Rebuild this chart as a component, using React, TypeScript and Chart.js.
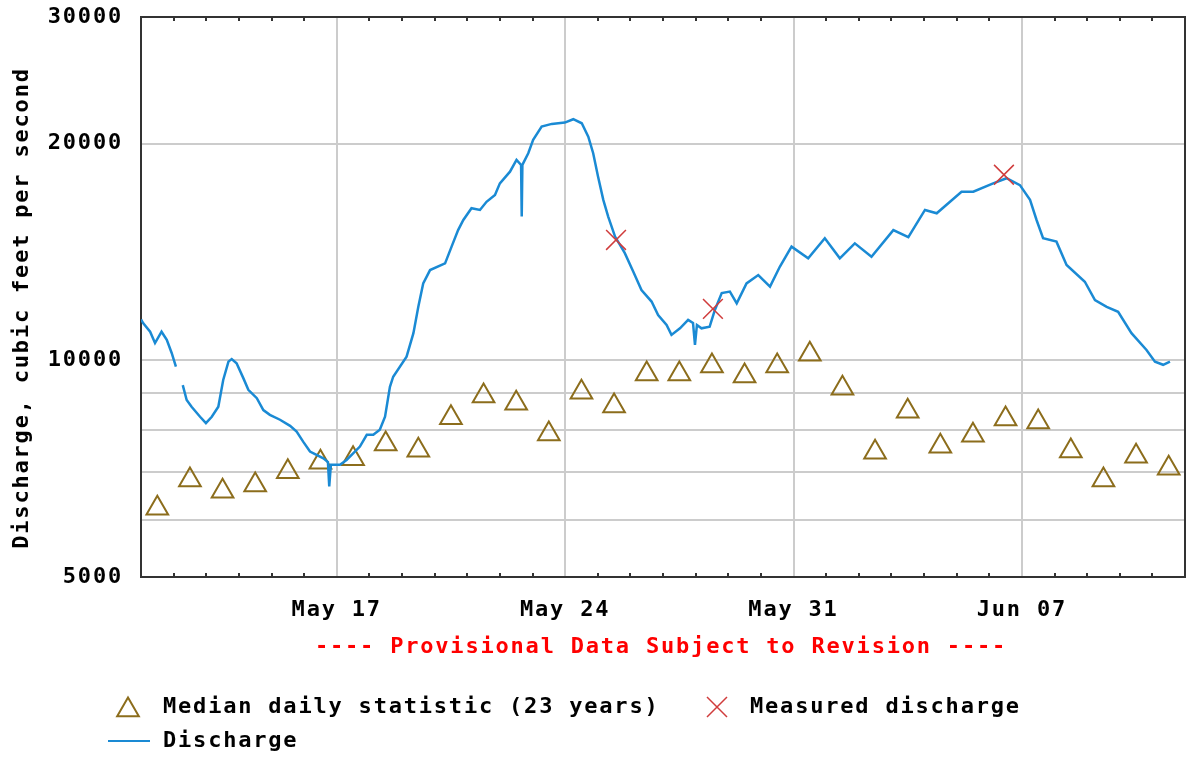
import React, { useEffect, useRef } from 'react';
import { Chart, registerables } from 'chart.js';

Chart.register(...registerables);

// x values are days since May 11 00:00
const X_TICK_DAYS = [6, 13, 20, 27];
const X_TICK_LABELS = ['May 17', 'May 24', 'May 31', 'Jun 07'];
const Y_GRID_VALUES = [5000, 6000, 7000, 8000, 9000, 10000, 20000, 30000];
const Y_LABELED_VALUES = [5000, 10000, 20000, 30000];

const MEDIAN_DAYS = [
  0.5, 1.5, 2.5, 3.5, 4.5, 5.5, 6.5, 7.5, 8.5, 9.5, 10.5, 11.5, 12.5, 13.5, 14.5, 15.5,
  16.5, 17.5, 18.5, 19.5, 20.5, 21.5, 22.5, 23.5, 24.5, 25.5, 26.5, 27.5, 28.5, 29.5, 30.5, 31.5,
];
const MEDIAN_CFS = [
  6230, 6820, 6580, 6710, 7000, 7220, 7300, 7650, 7500, 8320, 8920, 8720, 7900, 9030, 8640, 9570,
  9570, 9820, 9510, 9820, 10200, 9150, 7450, 8500, 7600, 7870, 8290, 8210, 7480, 6820, 7360, 7080,
];

const MEASURED_DAYS = [14.56, 17.53, 26.45];
const MEASURED_CFS = [14700, 11790, 18110];

const DISCHARGE_DAYS = [
  0.0, 0.07, 0.28, 0.43, 0.63, 0.79, 0.94, 1.07, 1.15, 1.28, 1.4, 1.55, 1.81, 1.99, 2.17, 2.37,
  2.52, 2.68, 2.78, 2.93, 3.14, 3.29, 3.55, 3.75, 3.95, 4.26, 4.57, 4.77, 4.97, 5.18, 5.38, 5.59,
  5.73, 5.77, 5.82, 5.95, 6.1, 6.3, 6.51, 6.71, 6.92, 7.12, 7.32, 7.48, 7.63, 7.73, 8.14, 8.35,
  8.5, 8.65, 8.86, 9.32, 9.52, 9.72, 9.88, 10.13, 10.39, 10.59, 10.85, 11.0, 11.31, 11.51, 11.65, 11.67,
  11.69, 11.87, 12.02, 12.28, 12.59, 12.99, 13.25, 13.51, 13.71, 13.86, 14.01, 14.17, 14.32, 14.53, 14.83, 15.09,
  15.34, 15.65, 15.85, 16.11, 16.26, 16.52, 16.77, 16.92, 16.98, 17.04, 17.18, 17.43, 17.59, 17.8, 18.05, 18.26,
  18.56, 18.92, 19.28, 19.58, 19.94, 20.45, 20.96, 21.42, 21.88, 22.39, 23.06, 23.52, 24.03, 24.39, 25.15, 25.51,
  26.12, 26.53, 26.94, 27.25, 27.45, 27.65, 28.06, 28.37, 28.93, 29.24, 29.6, 29.95, 30.36, 30.82, 31.08, 31.33,
  31.54,
];
const DISCHARGE_CFS = [
  11400, 11260, 10960, 10570, 10960, 10680, 10240, 9800, null, 9240, 8810, 8620, 8350, 8180, 8350, 8620,
  9390, 9960, 10040, 9910, 9440, 9100, 8860, 8530, 8400, 8270, 8110, 7960, 7710, 7470, 7390, 7310,
  7220, 6680, 7160, 7160, 7160, 7270, 7430, 7590, 7880, 7880, 8010, 8350, 9190, 9490, 10120, 10910,
  11870, 12790, 13350, 13640, 14390, 15170, 15670, 16270, 16180, 16610, 16970, 17620, 18290, 18990, 18690, 15840,
  18690, 19400, 20250, 21130, 21310, 21400, 21630, 21350, 20460, 19400, 18000, 16710, 15840, 14860, 14090, 13280,
  12520, 12070, 11560, 11200, 10850, 11080, 11380, 11270, 10510, 11200, 11080, 11140, 11750, 12400, 12460, 12000,
  12790, 13140, 12660, 13490, 14390, 13860, 14780, 13860, 14540, 13930, 15170, 14830, 16180, 16010, 17150, 17150,
  17620, 17910, 17520, 16710, 15670, 14780, 14620, 13570, 12860, 12130, 11870, 11680, 10910, 10340, 9960, 9860,
  9960,
];

const FONT_FAMILY = '"DejaVu Sans Mono", monospace';
const MEDIAN_COLOR = '#8c6d1c';
const MEASURED_COLOR = '#d03c3c';
const LINE_COLOR = '#1a8ad4';

function drawTriangle(ctx: CanvasRenderingContext2D, cx: number, cy: number, r: number) {
  const s = r * Math.sin(Math.PI / 3);
  ctx.beginPath();
  ctx.moveTo(cx, cy - r);
  ctx.lineTo(cx + s, cy + r / 2);
  ctx.lineTo(cx - s, cy + r / 2);
  ctx.closePath();
  ctx.stroke();
}

const decorPlugin = {
  id: 'decor',
  beforeDraw(chart: any) {
    chart.ctx.letterSpacing = '1.8px';
  },
  beforeDatasetsDraw(chart: any) {
    const { ctx, chartArea } = chart;
    const xs = chart.scales.x;
    ctx.save();
    ctx.strokeStyle = '#333333';
    ctx.lineWidth = 2;
    for (let d = 1; d < 32; d++) {
      if (X_TICK_DAYS.includes(d)) continue;
      const px = Math.round(xs.getPixelForValue(d));
      ctx.beginPath();
      ctx.moveTo(px, chartArea.bottom);
      ctx.lineTo(px, chartArea.bottom - 4);
      ctx.moveTo(px, chartArea.top);
      ctx.lineTo(px, chartArea.top + 4);
      ctx.stroke();
    }
    ctx.strokeRect(chartArea.left, chartArea.top, chartArea.right - chartArea.left, chartArea.bottom - chartArea.top);
    ctx.restore();
  },
  afterDraw(chart: any) {
    const { ctx } = chart;
    ctx.save();
    ctx.letterSpacing = '1.8px';
    ctx.font = 'bold 22px ' + FONT_FAMILY;
    ctx.textBaseline = 'middle';

    // y-axis title
    ctx.save();
    ctx.translate(22, 308);
    ctx.rotate(-Math.PI / 2);
    ctx.textAlign = 'center';
    ctx.fillStyle = '#000000';
    ctx.fillText('Discharge, cubic feet per second', 0, 0);
    ctx.restore();

    // provisional note
    ctx.textAlign = 'center';
    ctx.fillStyle = '#ff0000';
    ctx.fillText('---- Provisional Data Subject to Revision ----', 661, 647);

    // legend
    ctx.textAlign = 'left';
    ctx.fillStyle = '#000000';
    ctx.strokeStyle = MEDIAN_COLOR;
    ctx.lineWidth = 2;
    drawTriangle(ctx, 128, 710, 12.5);
    ctx.fillText('Median daily statistic (23 years)', 163, 707);

    ctx.strokeStyle = MEASURED_COLOR;
    ctx.lineWidth = 1.5;
    ctx.beginPath();
    ctx.moveTo(707, 697);
    ctx.lineTo(727, 717);
    ctx.moveTo(727, 697);
    ctx.lineTo(707, 717);
    ctx.stroke();
    ctx.fillText('Measured discharge', 750, 707);

    ctx.strokeStyle = LINE_COLOR;
    ctx.lineWidth = 2;
    ctx.beginPath();
    ctx.moveTo(108, 741);
    ctx.lineTo(150, 741);
    ctx.stroke();
    ctx.fillText('Discharge', 163, 741);
    ctx.restore();
  },
};

export default function App() {
  const canvasRef = useRef<HTMLCanvasElement | null>(null);

  useEffect(() => {
    document.body.style.margin = '0';
    const canvas = canvasRef.current;
    if (!canvas) return;
    const tickFont = { family: FONT_FAMILY, size: 22, weight: 'bold' as const };
    const chart = new Chart(canvas, {
      type: 'line',
      data: {
        datasets: [
          {
            type: 'scatter',
            label: 'Median daily statistic (23 years)',
            data: MEDIAN_DAYS.map((x, i) => ({ x, y: MEDIAN_CFS[i] })),
            pointStyle: 'triangle',
            pointRadius: 12.5,
            pointBorderWidth: 2,
            borderColor: MEDIAN_COLOR,
            pointBorderColor: MEDIAN_COLOR,
            backgroundColor: 'rgba(0,0,0,0)',
            pointBackgroundColor: 'rgba(0,0,0,0)',
            showLine: false,
            order: 3,
          } as any,
          {
            type: 'line',
            label: 'Discharge',
            data: DISCHARGE_DAYS.map((x, i) => ({ x, y: DISCHARGE_CFS[i] })),
            borderColor: LINE_COLOR,
            borderWidth: 2.5,
            pointRadius: 0,
            spanGaps: false,
            tension: 0,
            order: 2,
          } as any,
          {
            type: 'scatter',
            label: 'Measured discharge',
            data: MEASURED_DAYS.map((x, i) => ({ x, y: MEASURED_CFS[i] })),
            pointStyle: 'crossRot',
            pointRadius: 14,
            pointBorderWidth: 1.5,
            borderColor: MEASURED_COLOR,
            pointBorderColor: MEASURED_COLOR,
            showLine: false,
            order: 1,
          } as any,
        ],
      },
      options: {
        responsive: false,
        animation: false,
        devicePixelRatio: 1,
        layout: { autoPadding: false, padding: { top: 17, right: 3, left: 0, bottom: 0 } },
        plugins: { legend: { display: false }, title: { display: false }, tooltip: { enabled: false } },
        scales: {
          x: {
            type: 'linear',
            min: 0,
            max: 32,
            afterBuildTicks: (s: any) => {
              s.ticks = X_TICK_DAYS.map((v) => ({ value: v }));
            },
            afterFit: (s: any) => {
              s.height = 180;
              s.paddingLeft = 0;
              s.paddingRight = 0;
            },
            ticks: {
              callback: (v: any) => X_TICK_LABELS[X_TICK_DAYS.indexOf(Number(v))] ?? '',
              font: tickFont,
              color: '#000000',
              padding: 20,
              maxRotation: 0,
              autoSkip: false,
            },
            grid: { color: '#cccccc', lineWidth: 2, drawTicks: false },
            border: { display: false },
          },
          y: {
            type: 'logarithmic',
            min: 5000,
            max: 30000,
            afterBuildTicks: (s: any) => {
              s.ticks = Y_GRID_VALUES.map((v) => ({ value: v }));
            },
            afterFit: (s: any) => {
              s.width = 141;
              s.paddingTop = 0;
              s.paddingBottom = 0;
            },
            ticks: {
              callback: (v: any) => (Y_LABELED_VALUES.includes(Number(v)) ? String(v) : ''),
              font: tickFont,
              color: '#000000',
              padding: 18,
              autoSkip: false,
            },
            grid: { color: '#cccccc', lineWidth: 2, drawTicks: false },
            border: { display: false },
          },
        },
      },
      plugins: [decorPlugin],
    });
    return () => chart.destroy();
  }, []);

  return (
    <div style={{ width: 1188, height: 757, position: 'relative' }}>
      <canvas ref={canvasRef} width={1188} height={757} style={{ display: 'block' }} />
    </div>
  );
}
